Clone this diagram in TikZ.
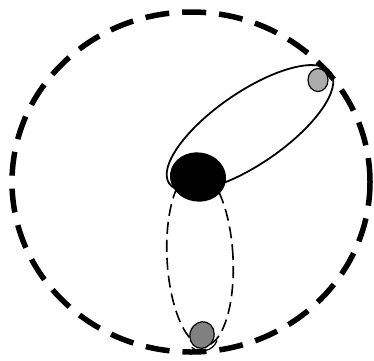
\documentclass[tikz,border=0pt]{standalone}
\usetikzlibrary{shapes.geometric}

\begin{document}
\begin{tikzpicture}[
		x=1pt, y=-1pt,
		body/.style={ellipse, draw, inner sep=0pt, line width=1.2pt},
		orbit/.style={ellipse, draw, inner sep=0pt},
		path/.style={ellipse, draw, inner sep=0pt, line width=5.5pt, dash pattern=on 24pt off 13pt}
		]
		\useasboundingbox (0,0) rectangle (374,360);
		% Outer path
		\node (track) [path, minimum width=358pt, minimum height=340pt] at (191,182) {};
		% Orbits
		\node (solid) [orbit, line width=1.8pt, minimum width=196pt, minimum height=72pt, rotate=34.5] at (250,128) {};
		\node (dash) [orbit, line width=1.6pt, dash pattern=on 12pt off 6pt, minimum width=66pt, minimum height=176pt, rotate=3] at (200,258) {};
		% Bodies
		\node (core) [body, fill=black, minimum width=55pt, minimum height=48pt, rotate=-8] at (198,177) {};
		\node (top) [body, fill=gray!65, minimum width=20pt, minimum height=23pt] at (318,80) {};
		\node (bottom) [body, fill=gray, minimum width=24pt, minimum height=27pt, rotate=-20] at (202,335) {};
		\draw [line width=1.2pt] (bottom.center) ++(20:16) arc[start angle=20, end angle=130, radius=16];
		
	\end{tikzpicture}
\end{document}
